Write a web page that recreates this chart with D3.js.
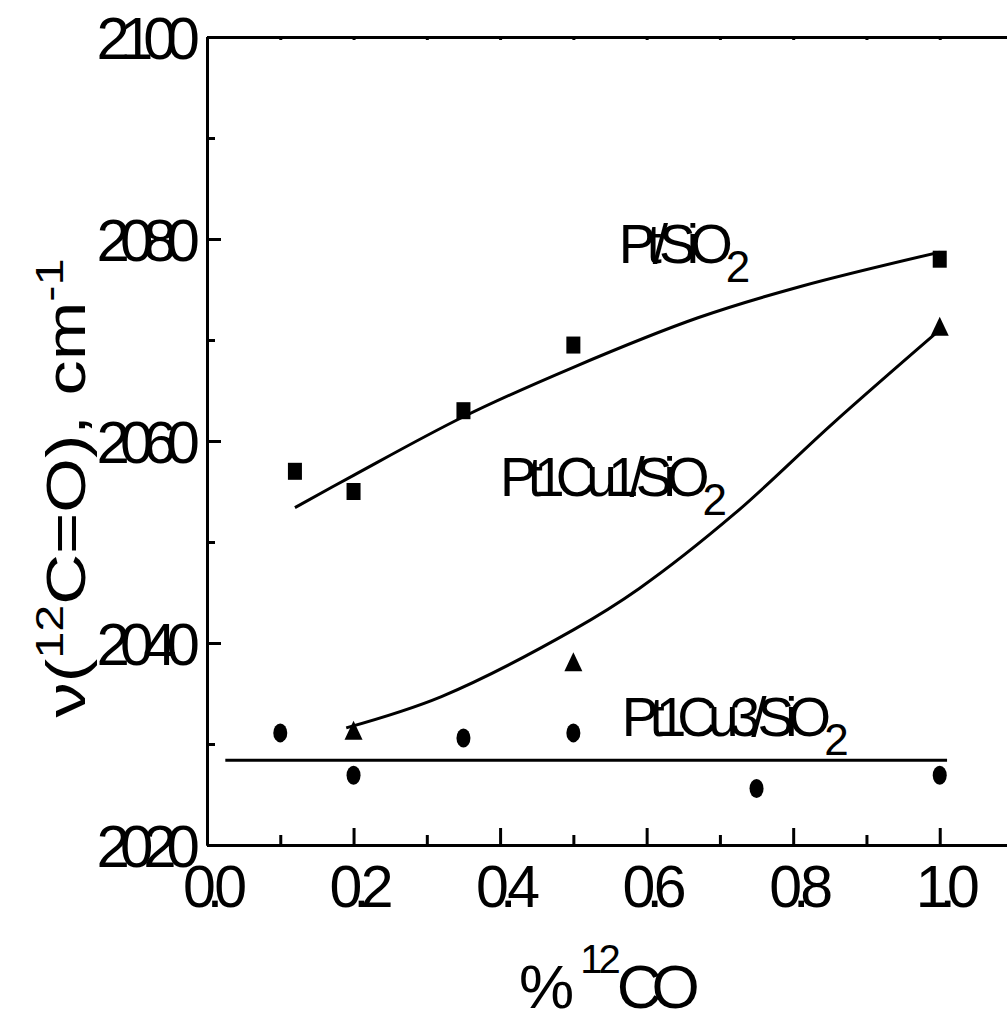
<!DOCTYPE html>
<html>
<head>
<meta charset="utf-8">
<script src="https://cdn.jsdelivr.net/npm/d3@7"></script>
<style>
  body { margin: 0; background: #fff; }
  text { font-family: "Liberation Sans", Arial, sans-serif; fill: #000; }
</style>
</head>
<body>
<div id="chart"></div>
<script>
// measured points
const ptX = [0.12, 0.2, 0.35, 0.5, 1.0];
const ptY = [2057.0, 2055.0, 2063.0, 2069.5, 2078.0];
const cu1X = [0.2, 0.5, 1.0];
const cu1Y = [2031.3, 2038.1, 2071.3];
const cu3X = [0.1, 0.2, 0.35, 0.5, 0.75, 1.0];
const cu3Y = [2031.1, 2026.9, 2030.6, 2031.1, 2025.6, 2026.9];

// fitted curves
const ptFitX = [0.12, 0.2, 0.35, 0.5, 0.67, 0.81, 1.0];
const ptFitY = [2053.4, 2056.6, 2062.4, 2067.3, 2072.2, 2075.3, 2078.7];
const cu1FitX = [0.19, 0.32, 0.5, 0.59, 0.72, 0.855, 1.0];
const cu1FitY = [2031.6, 2034.7, 2041.3, 2045.4, 2052.8, 2061.8, 2071.0];
const cu3FitX = [0.025, 1.01];
const cu3FitY = [2028.4, 2028.4];

const xMajor = [0, 0.2, 0.4, 0.6, 0.8, 1.0];
const xMinor = [0.1, 0.3, 0.5, 0.7, 0.9];
const yMajor = [2020, 2040, 2060, 2080, 2100];
const yMinor = [2030, 2050, 2070, 2090];

const labels = [
  { name: 'Pt/SiO', x: 0.562, y: 2077.6 },
  { name: 'Pt1Cu1/SiO', x: 0.4, y: 2054.6 },
  { name: 'Pt1Cu3/SiO', x: 0.566, y: 2030.8 }
];

let width = 1007, height = 1023;

let svg = d3.select('#chart')
  .append('svg')
  .attr('width', width)
  .attr('height', height);

let x = d3.scaleLinear().domain([0, 1.1]).range([207, 1013]);
let y = d3.scaleLinear().domain([2020, 2100]).range([845, 37]);

function styleAxis(g) {
  g.select('.domain').attr('stroke-width', 3);
  g.selectAll('.tick line').attr('stroke-width', 3);
}

// x axis
svg.append('g')
  .attr('transform', `translate(0,${y(2020)})`)
  .call(d3.axisBottom(x).tickValues(xMajor).tickSize(-17).tickSizeOuter(0)
    .tickFormat(d3.format('.1f')))
  .call(styleAxis)
  .call(g => g.selectAll('text')
    .attr('y', 62).attr('dy', 0)
    .attr('dx', 3)
    .style('font-size', '59px')
    .style('letter-spacing', '-9px'));

svg.append('g')
  .attr('transform', `translate(0,${y(2020)})`)
  .call(d3.axisBottom(x).tickValues(xMinor).tickSize(-10).tickSizeOuter(0).tickFormat(''))
  .call(styleAxis);

// top axis
svg.append('g')
  .attr('transform', `translate(0,${y(2100)})`)
  .call(d3.axisTop(x).tickValues(xMajor.concat(xMinor)).tickSize(-3).tickSizeOuter(0).tickFormat(''))
  .call(styleAxis);

// y axis
svg.append('g')
  .attr('transform', `translate(${x(0)},0)`)
  .call(d3.axisLeft(y).tickValues(yMajor).tickSize(-14).tickSizeOuter(0)
    .tickFormat(d3.format('d')))
  .call(styleAxis)
  .call(g => g.selectAll('text')
    .attr('x', -17)
    .attr('dy', '0.36em')
    .style('font-size', '60px')
    .style('letter-spacing', '-10px'));

svg.append('g')
  .attr('transform', `translate(${x(0)},0)`)
  .call(d3.axisLeft(y).tickValues(yMinor).tickSize(-8).tickSizeOuter(0).tickFormat(''))
  .call(styleAxis);

// fit curves
let line = d3.line()
  .x(d => x(d[0]))
  .y(d => y(d[1]))
  .curve(d3.curveCatmullRom.alpha(0.5));

[[ptFitX, ptFitY], [cu1FitX, cu1FitY], [cu3FitX, cu3FitY]].forEach(([xs, ys]) => {
  svg.append('path')
    .datum(xs.map((v, i) => [v, ys[i]]))
    .attr('d', line)
    .attr('fill', 'none')
    .attr('stroke', '#000')
    .attr('stroke-width', 3);
});

// markers
svg.selectAll('.sq')
  .data(ptX.map((v, i) => [v, ptY[i]]))
  .enter()
  .append('rect')
  .attr('class', 'sq')
  .attr('x', d => x(d[0]) - 7)
  .attr('y', d => y(d[1]) - 8.5)
  .attr('width', 14)
  .attr('height', 17);

svg.selectAll('.tri')
  .data(cu1X.map((v, i) => [v, cu1Y[i]]))
  .enter()
  .append('path')
  .attr('class', 'tri')
  .attr('d', d => {
    let cx = x(d[0]), cy = y(d[1]);
    return `M${cx},${cy - 10}L${cx + 9},${cy + 9}L${cx - 9},${cy + 9}Z`;
  });

svg.selectAll('.dot')
  .data(cu3X.map((v, i) => [v, cu3Y[i]]))
  .enter()
  .append('ellipse')
  .attr('class', 'dot')
  .attr('cx', d => x(d[0]))
  .attr('cy', d => y(d[1]))
  .attr('rx', 7)
  .attr('ry', 9.5);

// series labels
labels.forEach(l => {
  let t = svg.append('text')
    .attr('x', x(l.x))
    .attr('y', y(l.y))
    .style('font-size', '55px')
    .style('letter-spacing', '-9px');
  t.append('tspan').text(l.name);
  t.append('tspan')
    .attr('dy', 19)
    .attr('dx', 2)
    .style('font-size', '44px')
    .text('2');
});

// x label
let xl = svg.append('text')
  .attr('x', 519)
  .attr('y', 1008)
  .style('font-size', '62px');
xl.append('tspan').text('%');
xl.append('tspan').attr('dx', 6).attr('dy', -35).style('font-size', '40px').style('letter-spacing', '-4px').text('12');
xl.append('tspan').attr('dy', 35).style('letter-spacing', '-10px').text('CO');

// y label
let yl = svg.append('text')
  .attr('transform', `translate(85,${(y(2020) + y(2100)) / 2 + 47}) rotate(-90) scale(1.28,1)`)
  .attr('text-anchor', 'middle')
  .style('font-size', '55px');
yl.append('tspan').text('\u03bd(');
yl.append('tspan').attr('dy', -22).style('font-size', '38px').text('12');
yl.append('tspan').attr('dy', 22).text('C=O), cm');
yl.append('tspan').attr('dy', -22).style('font-size', '38px').text('-1');
</script>
</body>
</html>
